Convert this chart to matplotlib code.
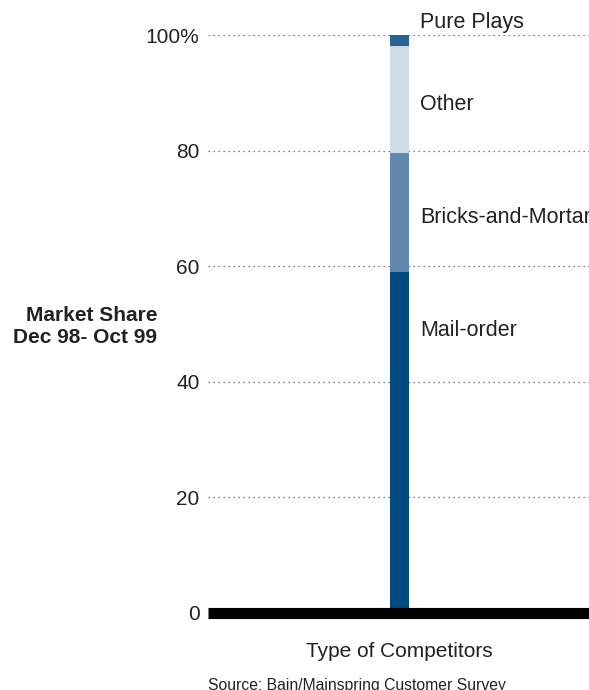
import matplotlib
matplotlib.use("Agg")
import matplotlib.pyplot as plt

plt.rcParams["font.family"] = ["Liberation Sans", "DejaVu Sans"]

segments = ["Mail-order", "Bricks-and-Mortar", "Other", "Pure Plays"]
shares = [59.1, 20.5, 18.6, 1.8]
label_y = [49, 68.5, 88, 102.2]
colors = ["#004a80", "#6389b0", "#d0dbe8", "#2a6496"]
yticks = [0, 20, 40, 60, 80, 100]
ytick_labels = ["0", "20", "40", "60", "80", "100%"]

fig = plt.figure(figsize=(5.89, 6.90), dpi=100)
ax = fig.add_axes([0.353, 0.1116, 0.650, 0.837])

bottom = 0
for name, val, ly, c in zip(segments, shares, label_y, colors):
    ax.bar(0, val, bottom=bottom, width=0.05, color=c, zorder=2)
    ax.annotate(name, xy=(0.025, ly), xytext=(8, 0), textcoords="offset points",
                ha="left", va="center", fontsize=15.5, color="#222222",
                annotation_clip=False)
    bottom += val

ax.set_xlim(-0.5, 0.5)
ax.set_ylim(0, 100)
ax.set_yticks(yticks)
ax.set_yticklabels(ytick_labels, fontsize=15, color="#222222")
ax.set_xticks([])
ax.tick_params(axis="y", length=0, pad=6)
for s in ax.spines.values():
    s.set_visible(False)
ax.grid(axis="y", linestyle=(0, (1, 3)), color="#555555", linewidth=0.9, zorder=1)
ax.axhline(0, color="black", linewidth=8, zorder=3, solid_capstyle="butt", clip_on=False)

ax.set_xlabel("Type of Competitors", fontsize=15, color="#222222", labelpad=21)

fig.text(0.267, 0.527, "Market Share\nDec 98- Oct 99", ha="right", va="center",
         fontsize=15, fontweight="bold", color="#222222", linespacing=1.2)
fig.text(0.606, -0.004, "Source: Bain/Mainspring Customer Survey", ha="center",
         va="bottom", fontsize=11.3, color="#222222")

fig.savefig("out.png", dpi=100)
